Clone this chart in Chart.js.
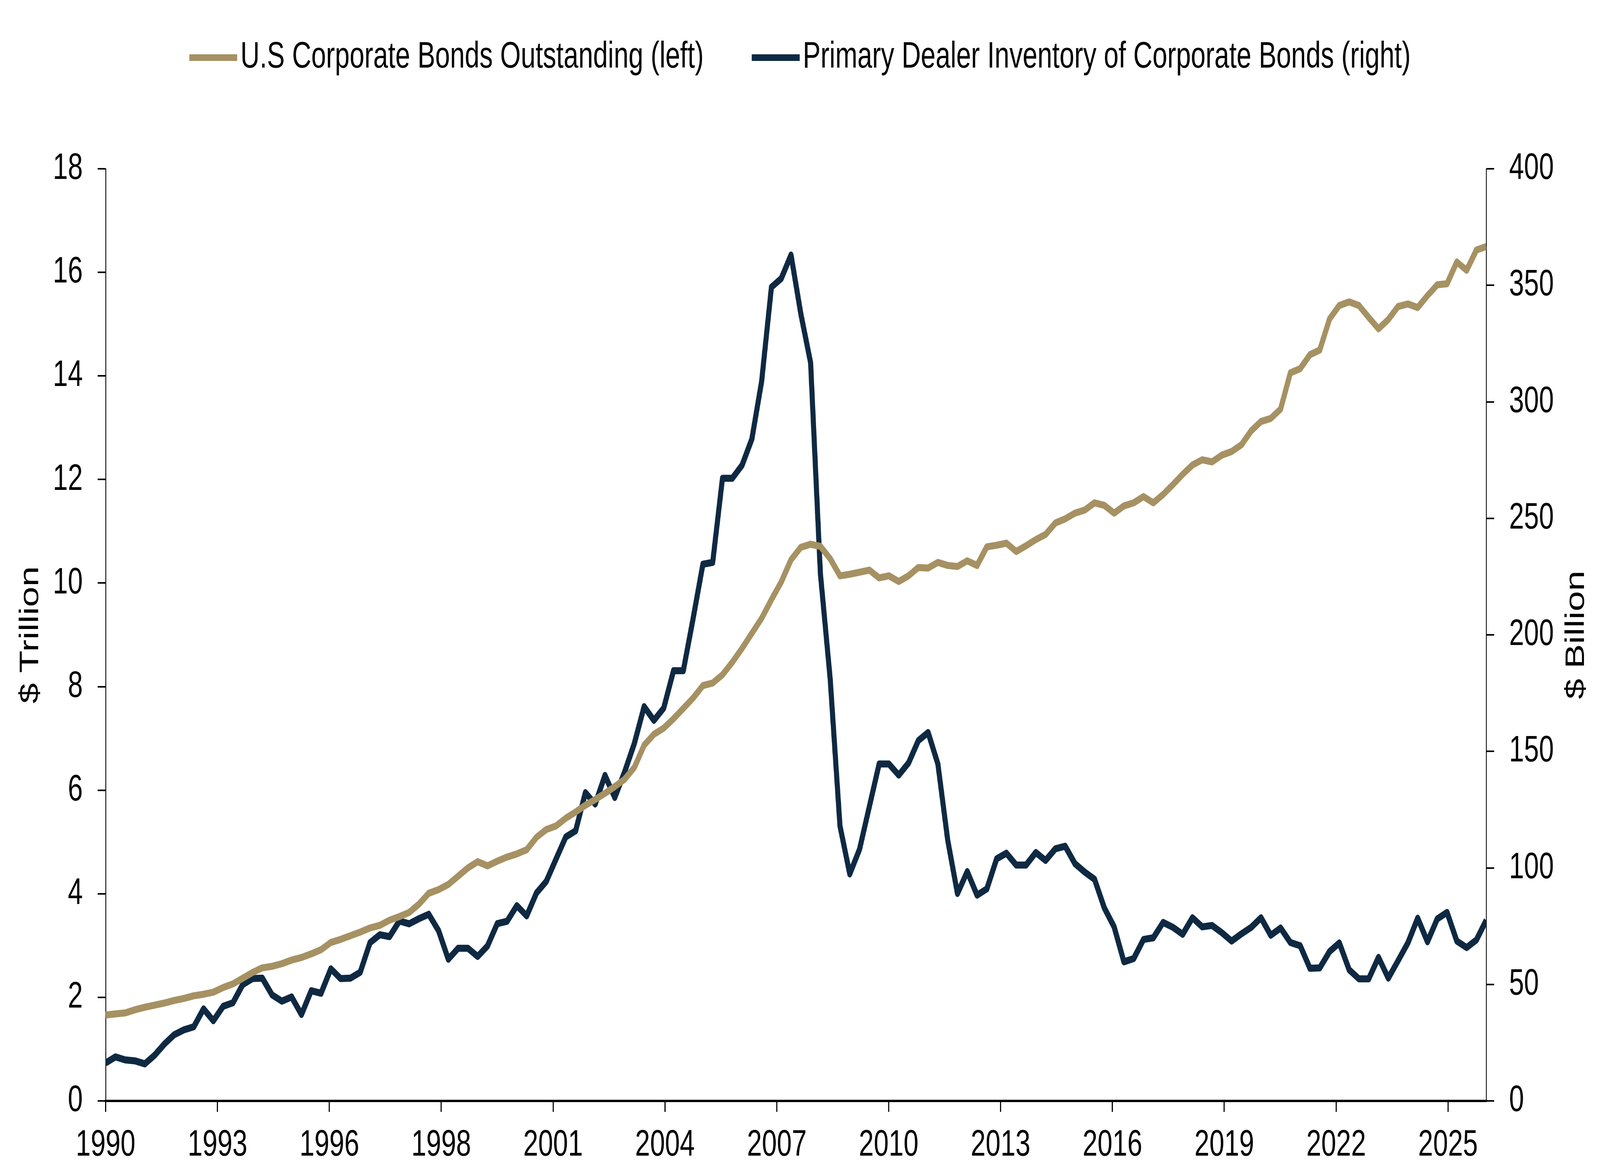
<!DOCTYPE html>
<html>
<head>
<meta charset="utf-8">
<script src="https://cdn.jsdelivr.net/npm/chart.js@4.4.1/dist/chart.umd.min.js"></script>
<style>
  html, body { margin: 0; padding: 0; background: #ffffff; overflow: hidden; }
  canvas { display: block; }
</style>
</head>
<body>
<canvas id="chart" width="5666" height="2982" style="width:100vw;height:100vh"></canvas>
<script>
const canvasChart = document.getElementById('chart');

/* DATA (quarterly, 1990 Q1 .. 2025 Q2) */
const SERIES_NAMES = [
    'U.S Corporate Bonds Outstanding (left)',
    'Primary Dealer Inventory of Corporate Bonds (right)'
];

// $ Trillion
const BONDS_OUTSTANDING = [
    1.66, 1.68, 1.70, 1.76, 1.81, 1.85, 1.89, 1.94, 1.98, 2.03,
    2.06, 2.10, 2.19, 2.26, 2.37, 2.48, 2.57, 2.60, 2.65, 2.72,
    2.77, 2.84, 2.92, 3.06, 3.12, 3.19, 3.26, 3.34, 3.39, 3.49,
    3.56, 3.64, 3.80, 4.01, 4.08, 4.18, 4.34, 4.50, 4.62, 4.54,
    4.63, 4.71, 4.77, 4.85, 5.09, 5.24, 5.31, 5.46, 5.58, 5.71,
    5.82, 5.94, 6.07, 6.21, 6.44, 6.87, 7.08, 7.20, 7.38, 7.58,
    7.78, 8.02, 8.07, 8.23, 8.47, 8.74, 9.03, 9.32, 9.68, 10.02,
    10.45, 10.69, 10.75, 10.71, 10.47, 10.14, 10.17, 10.21, 10.25, 10.10,
    10.14, 10.03, 10.14, 10.30, 10.29, 10.40, 10.34, 10.32, 10.43, 10.34,
    10.70, 10.73, 10.77, 10.61, 10.72, 10.84, 10.94, 11.16, 11.24, 11.35,
    11.41, 11.55, 11.50, 11.35, 11.49, 11.55, 11.67, 11.55, 11.71, 11.90,
    12.10, 12.28, 12.38, 12.34, 12.47, 12.54, 12.67, 12.94, 13.12, 13.18,
    13.36, 14.06, 14.14, 14.41, 14.50, 15.10, 15.36, 15.43, 15.36, 15.13,
    14.91, 15.09, 15.34, 15.39, 15.32, 15.55, 15.76, 15.78, 16.20, 16.04,
    16.43, 16.50
];

// $ Billion
const DEALER_INVENTORY = [
    16.3, 18.9, 17.6, 17.2, 15.9, 19.6, 24.4, 28.4, 30.5, 31.8,
    39.5, 34.4, 40.6, 42.1, 49.9, 52.5, 52.7, 45.5, 42.8, 44.6,
    37.1, 47.3, 46.2, 56.7, 52.5, 52.7, 55.2, 67.9, 71.3, 70.5,
    77.2, 76.0, 78.2, 80.1, 73.1, 60.8, 65.5, 65.5, 62.0, 66.5,
    76.1, 77.1, 83.8, 79.4, 89.2, 94.2, 103.8, 113.3, 115.9, 132.3,
    127.4, 139.7, 130.2, 141.1, 153.4, 169.2, 163.3, 168.6, 184.6, 184.6,
    207.0, 230.3, 231.1, 267.2, 267.2, 272.8, 284.0, 308.8, 349.2, 352.9,
    363.0, 337.8, 316.8, 226.3, 181.1, 118.0, 97.4, 108.0, 126.3, 144.6,
    144.6, 139.8, 145.0, 154.6, 158.1, 144.6, 112.0, 89.0, 98.4, 88.3,
    91.0, 103.9, 106.3, 101.2, 101.2, 106.6, 103.2, 108.2, 109.3, 101.8,
    98.2, 95.1, 82.8, 74.7, 59.7, 61.1, 69.3, 70.0, 76.6, 74.5,
    71.5, 78.6, 74.7, 75.3, 72.2, 68.6, 71.7, 74.5, 78.6, 71.1,
    74.2, 68.0, 66.6, 56.9, 57.1, 64.1, 67.8, 56.3, 52.4, 52.4,
    61.6, 52.7, 60.2, 67.8, 78.4, 68.3, 78.1, 80.9, 68.6, 65.8,
    69.1, 77.5
];

const QUARTERS = BONDS_OUTSTANDING.map((_, i) => (1990 + Math.floor(i / 4)) + ' Q' + (i % 4 + 1));

const X_TICK_LABELS = ['1990', '1993', '1996', '1998', '2001', '2004', '2007', '2010', '2013', '2016', '2019', '2022', '2025'];
const X_TICK_STEP = 11.425;   // quarters between labelled ticks

const COLOR_TAN = '#A69163';
const COLOR_NAVY = '#0F2942';
const FONT = "'Liberation Sans', Arial, sans-serif";

const toPoints = (values) => values.map((v, i) => ({ x: i, y: v }));

// legend swatch: a short thick line, offset so it starts at the item's left edge
const makeSwatch = (color) => {
    const c = document.createElement('canvas');
    c.width = 206;
    c.height = 17;
    const g = c.getContext('2d');
    g.fillStyle = color;
    g.fillRect(36, 0, 170, 17);
    return c;
};
const SWATCHES = [makeSwatch(COLOR_TAN), makeSwatch(COLOR_NAVY)];

/* PLUGINS */
// legend: wide gap between the two items, text kept near the top edge
const legendPlace = {
    id: 'legendPlace',
    beforeUpdate(chart) {
        const lg = chart.legend;
        if (!lg || lg._placed) return;
        lg._placed = true;
        const fit = lg.fit.bind(lg);
        lg.fit = function () { fit(); this.height = 432; };
        const draw = lg.draw.bind(lg);
        lg.draw = function (area) {
            const c = this.ctx;
            c.save();
            c.translate(0, -70);
            draw(area);
            c.restore();
        };
    }
};

// right axis title reads bottom-to-top like the left one
const rightTitle = {
    id: 'rightTitle',
    afterDraw(chart) {
        const c = chart.ctx;
        const area = chart.chartArea;
        c.save();
        c.translate(area.right + 320, (area.top + area.bottom) / 2);
        c.rotate(-Math.PI / 2);
        c.fillStyle = '#000';
        c.font = '94px ' + FONT;
        c.textAlign = 'center';
        c.textBaseline = 'middle';
        c.fillText('$ Billion', 0, 0);
        c.restore();
    }
};

/* CHART */
var chartLine = new Chart(canvasChart, {
    type: 'line',
    data: {
        labels: QUARTERS,
        datasets: [
            {
                label: SERIES_NAMES[0],
                data: toPoints(BONDS_OUTSTANDING),
                borderColor: COLOR_TAN,
                backgroundColor: COLOR_TAN,
                borderWidth: 18,
                yAxisID: 'y'
            },
            {
                label: SERIES_NAMES[1],
                data: toPoints(DEALER_INVENTORY),
                borderColor: COLOR_NAVY,
                backgroundColor: COLOR_NAVY,
                borderWidth: 18,
                yAxisID: 'y1'
            }
        ]
    },
    options: {
        responsive: false,
        devicePixelRatio: 1,
        animation: false,
        layout: { padding: 0 },
        elements: {
            point: { radius: 0 },
            line: { tension: 0, borderJoinStyle: 'round', borderCapStyle: 'butt' }
        },
        plugins: {
            tooltip: { enabled: false },
            legend: {
                position: 'top',
                labels: {
                    usePointStyle: true,
                    pointStyleWidth: 134,
                    boxHeight: 17,
                    padding: 170,
                    color: '#000',
                    font: { family: FONT, size: 94 },
                    generateLabels: (chart) =>
                        Chart.defaults.plugins.legend.labels.generateLabels(chart).map((l, i) =>
                            Object.assign(l, { lineWidth: 0, pointStyle: SWATCHES[i], rotation: 0 }))
                }
            }
        },
        scales: {
            x: {
                type: 'linear',
                min: 0,
                max: BONDS_OUTSTANDING.length - 1,
                afterBuildTicks: (scale) => {
                    scale.ticks = X_TICK_LABELS.map((_, k) => ({ value: k * X_TICK_STEP }));
                },
                afterFit: (scale) => { scale.height = 164; },
                ticks: {
                    autoSkip: false,
                    maxRotation: 0,
                    padding: 31,
                    color: '#000',
                    font: { family: FONT, size: 95, lineHeight: 1.15 },
                    callback: (value, index) => X_TICK_LABELS[index]
                },
                grid: { drawOnChartArea: false, tickLength: 28, lineWidth: 4, color: '#000' },
                border: { color: '#000', width: 6 }
            },
            y: {
                position: 'left',
                min: 0,
                max: 18,
                afterFit: (scale) => { scale.width = 374; },
                ticks: {
                    stepSize: 2,
                    padding: 53,
                    color: '#000',
                    font: { family: FONT, size: 95 }
                },
                grid: { drawOnChartArea: false, tickLength: 28, lineWidth: 4, color: '#000' },
                border: { color: '#000', width: 3 },
                title: {
                    display: true,
                    text: '$ Trillion',
                    color: '#000',
                    padding: { top: 53, bottom: 0 },
                    font: { family: FONT, size: 94, lineHeight: 1.2 }
                }
            },
            y1: {
                position: 'right',
                min: 0,
                max: 400,
                afterFit: (scale) => { scale.width = 403; },
                ticks: {
                    stepSize: 50,
                    padding: 53,
                    color: '#000',
                    font: { family: FONT, size: 95 }
                },
                grid: { drawOnChartArea: false, tickLength: 28, lineWidth: 4, color: '#000' },
                border: { color: '#000', width: 3 }
            }
        }
    },
    plugins: [legendPlace, rightTitle]
});
</script>
</body>
</html>
